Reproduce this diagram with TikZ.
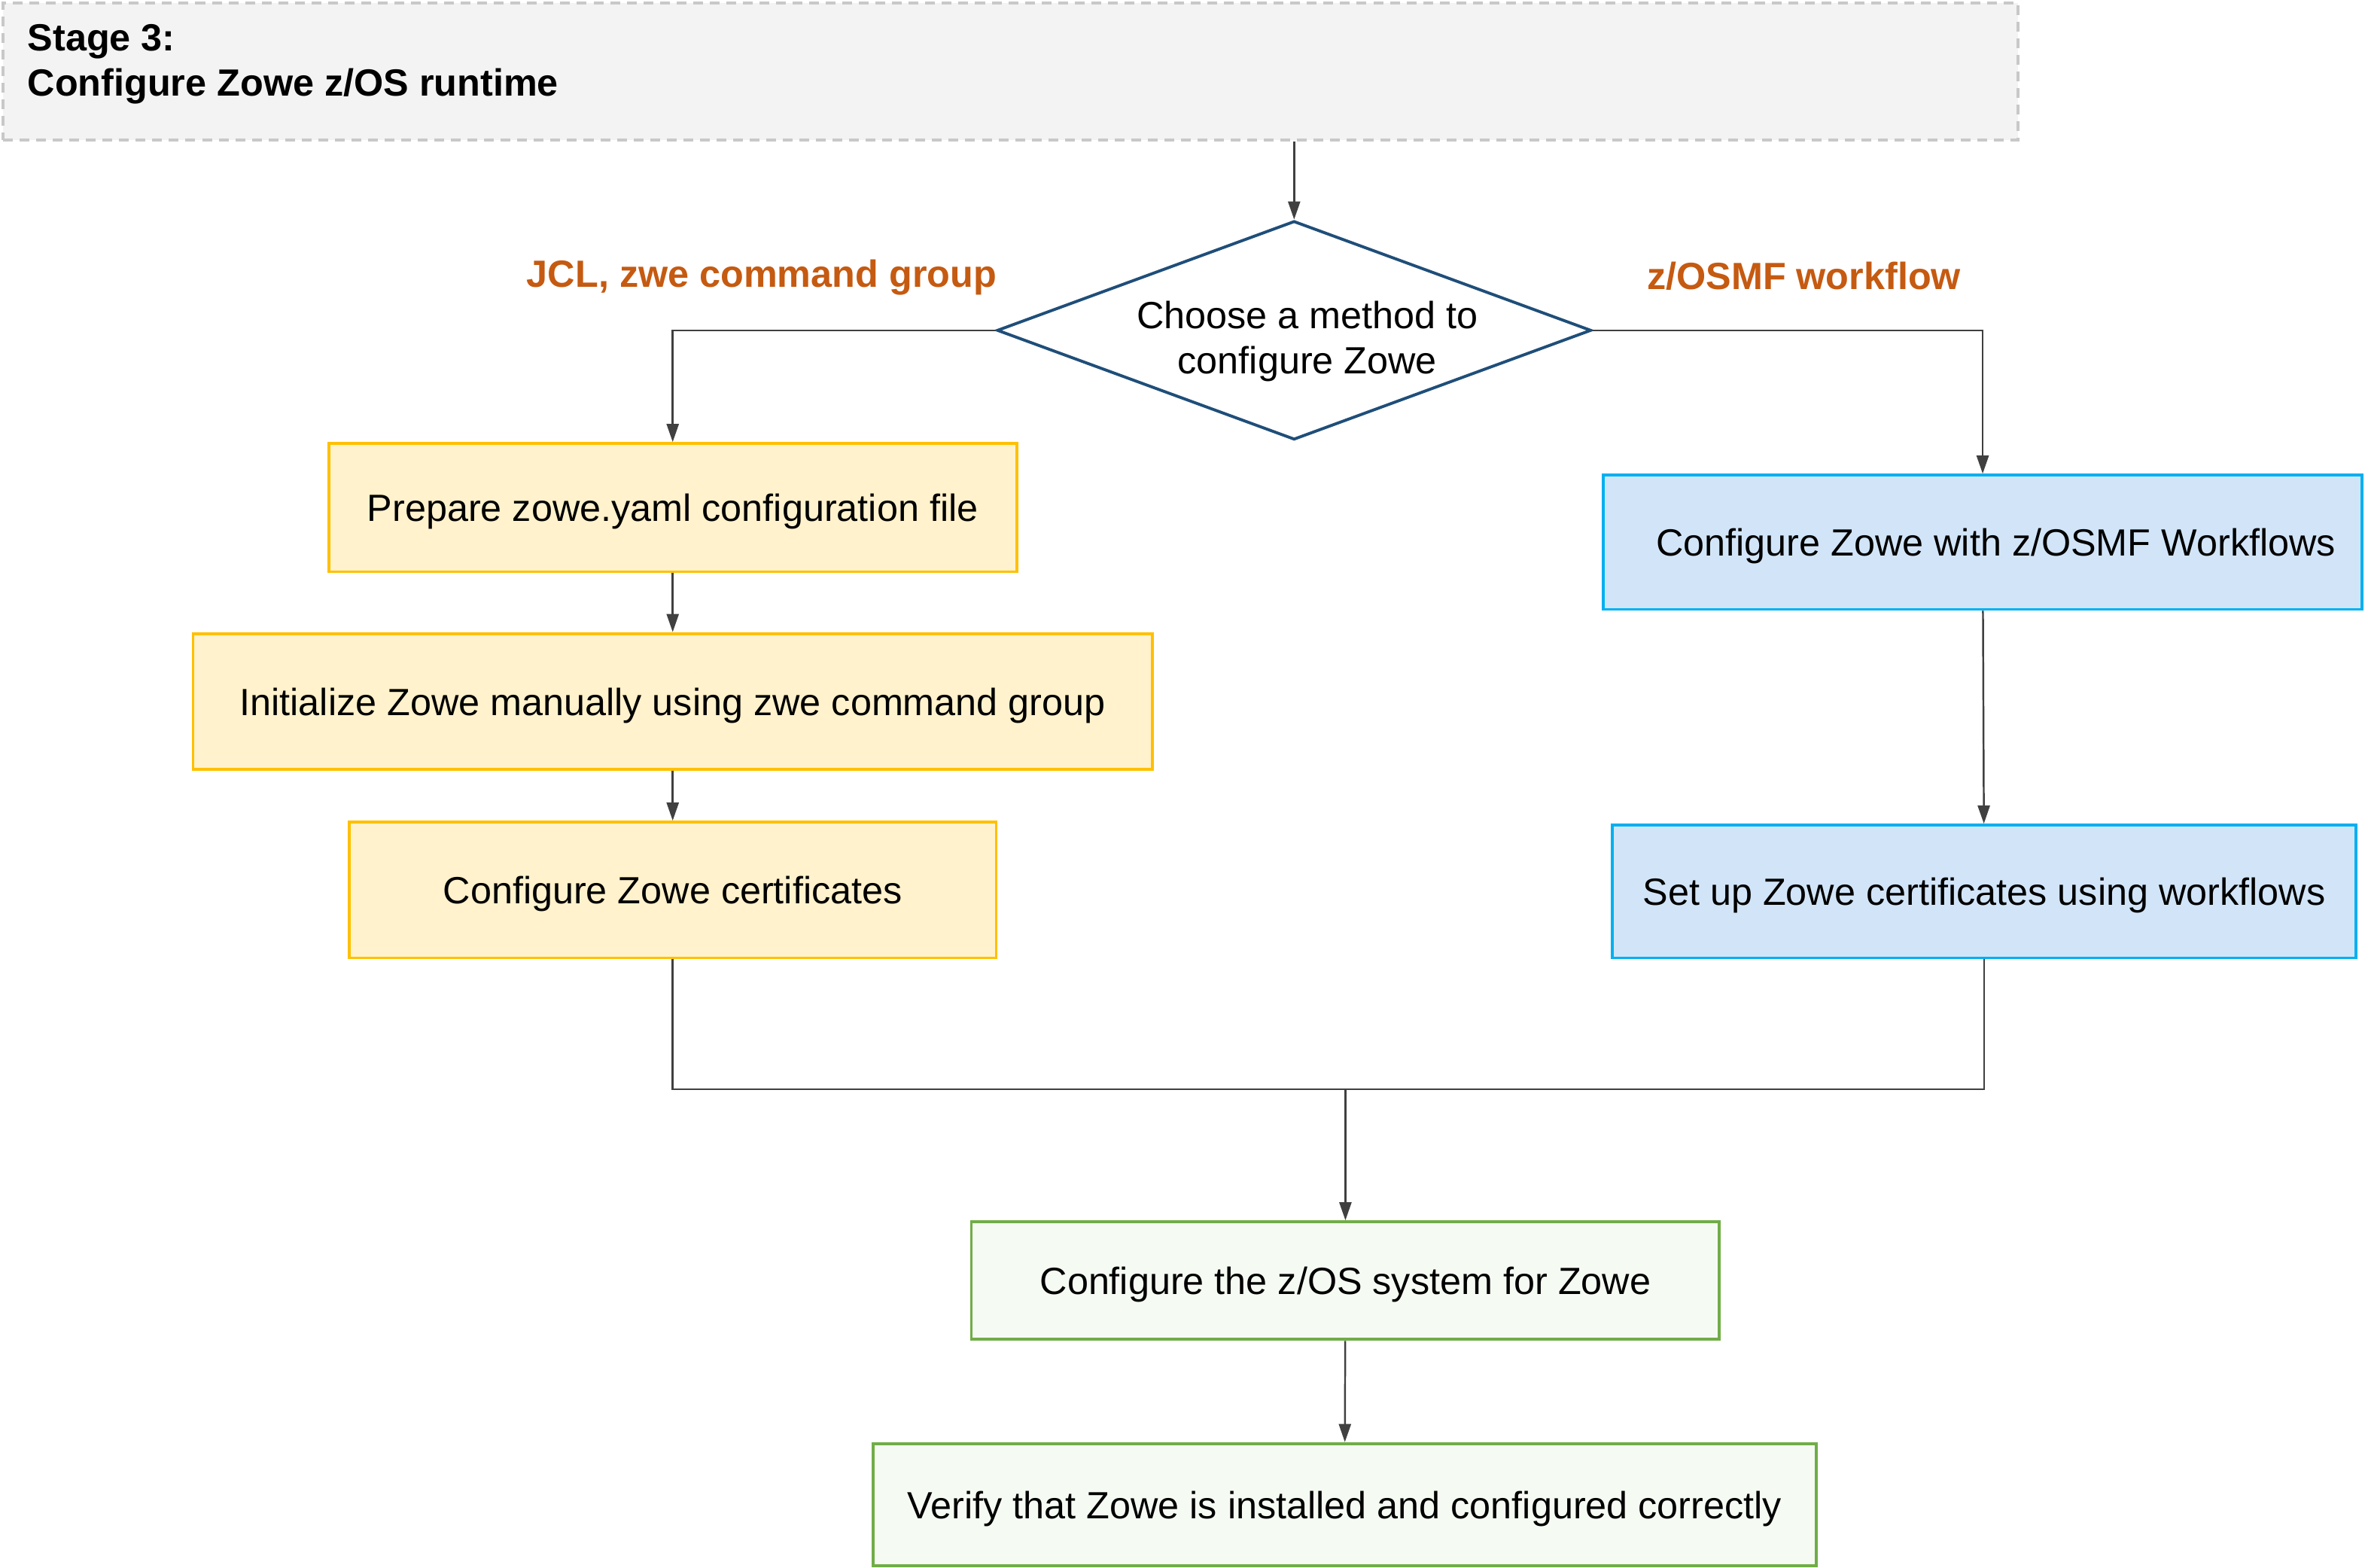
\documentclass[tikz,border=0pt]{standalone}
\usepackage{fontspec}
\setmainfont{Liberation Sans}
\usetikzlibrary{shapes.geometric,arrows.meta,positioning}

\definecolor{stagefill}{HTML}{F3F3F3}
\definecolor{stagedash}{HTML}{C8C8C8}
\definecolor{choiceblue}{HTML}{1F4E79}
\definecolor{jclfill}{HTML}{FFF2CC}
\definecolor{jclborder}{HTML}{FFC000}
\definecolor{osmffill}{HTML}{D2E5F8}
\definecolor{osmfborder}{HTML}{00B0F0}
\definecolor{zosfill}{HTML}{F5FBF3}
\definecolor{zosborder}{HTML}{70AD47}
\definecolor{methodorange}{HTML}{C55A11}
\definecolor{linegray}{HTML}{404040}

\begin{document}
\begin{tikzpicture}[font=\fontsize{14.3}{17}\selectfont,
  stage/.style={rectangle, minimum width=26.72cm, minimum height=1.82cm, draw=stagedash, fill=stagefill, line width=1.1pt, dash pattern=on 0.13cm off 0.09cm},
  choice/.style={diamond, aspect=2.72, minimum width=7.88cm, minimum height=2.9cm, inner sep=0pt, draw=choiceblue, fill=white, line width=1.1pt},
  jcl/.style={rectangle, minimum height=1.8cm, text height=13.4pt, text depth=3pt, text centered, draw=jclborder, fill=jclfill, line width=1.1pt},
  osmf/.style={rectangle, minimum height=1.78cm, text height=13.4pt, text depth=3pt, text centered, draw=osmfborder, fill=osmffill, line width=1.1pt},
  zos/.style={rectangle, minimum height=1.6cm, text height=13.4pt, text depth=3pt, text centered, draw=zosborder, fill=zosfill, line width=1.1pt},
  method/.style={font=\fontsize{14.3}{17}\selectfont\bfseries, text=methodorange},
  arr/.style={-{Triangle[length=0.24cm, width=0.16cm]}, line width=0.7pt, draw=linegray},
  link/.style={line width=0.7pt, draw=linegray}
]
\useasboundingbox (0,0) rectangle (31.36,-20.79);

% Stage header
\node[stage] (stage) at (13.4,-0.95) {};
\node[anchor=north west, inner sep=0pt, align=left, font=\fontsize{14.3}{17}\selectfont\bfseries] (title) at (0.36,-0.32) {Stage 3:\\Configure Zowe z/OS runtime};

% Decision
\node[choice] (choose) at (17.16,-4.38) {\hspace*{0.35cm}\raisebox{-8.1pt}[0pt][0pt]{\begin{tabular}{@{}c@{}}Choose a method to\\configure Zowe\end{tabular}}};
\node[method] (jcllabel) at (10.1,-3.68) {JCL, zwe command group};
\node[method] (osmflabel) at (23.92,-3.66) {z/OSMF workflow};

% JCL path
\node[jcl, minimum width=9.12cm, minimum height=1.7cm] (prepare) at (8.92,-6.73) {Prepare zowe.yaml configuration file};
\node[jcl, minimum width=12.72cm] (init) at (8.92,-9.30) {Initialize Zowe manually using zwe command group};
\node[jcl, minimum width=8.58cm] (certs) at (8.92,-11.80) {Configure Zowe certificates};

% z/OSMF path
\node[osmf, minimum width=10.06cm] (workflows) at (26.29,-7.19) {\hspace*{0.35cm}Configure Zowe with z/OSMF Workflows};
\node[osmf, minimum width=9.86cm, minimum height=1.76cm] (wfcerts) at (26.31,-11.82) {Set up Zowe certificates using workflows};

% Common steps
\node[zos, minimum width=9.92cm, minimum height=1.56cm] (system) at (17.84,-16.98) {Configure the z/OS system for Zowe};
\node[zos, minimum width=12.5cm, minimum height=1.62cm] (verify) at (17.83,-19.95) {Verify that Zowe is installed and configured correctly};
\coordinate (join) at (17.84,-14.44);

% Connections
\draw[arr] (choose.north |- stage.south) -- (choose);
\draw[arr] (choose.west) -| (prepare.north);
\draw[arr] (choose.east) -| (workflows.north);
\draw[arr] (prepare) -- (init);
\draw[arr] (init) -- (certs);
\draw[arr] (workflows) -- (wfcerts);
\draw[link] (certs.south) |- (join) -| (wfcerts.south);
\draw[arr] (join) -- (system);
\draw[arr] (system) -- (verify);

\end{tikzpicture}
\end{document}
